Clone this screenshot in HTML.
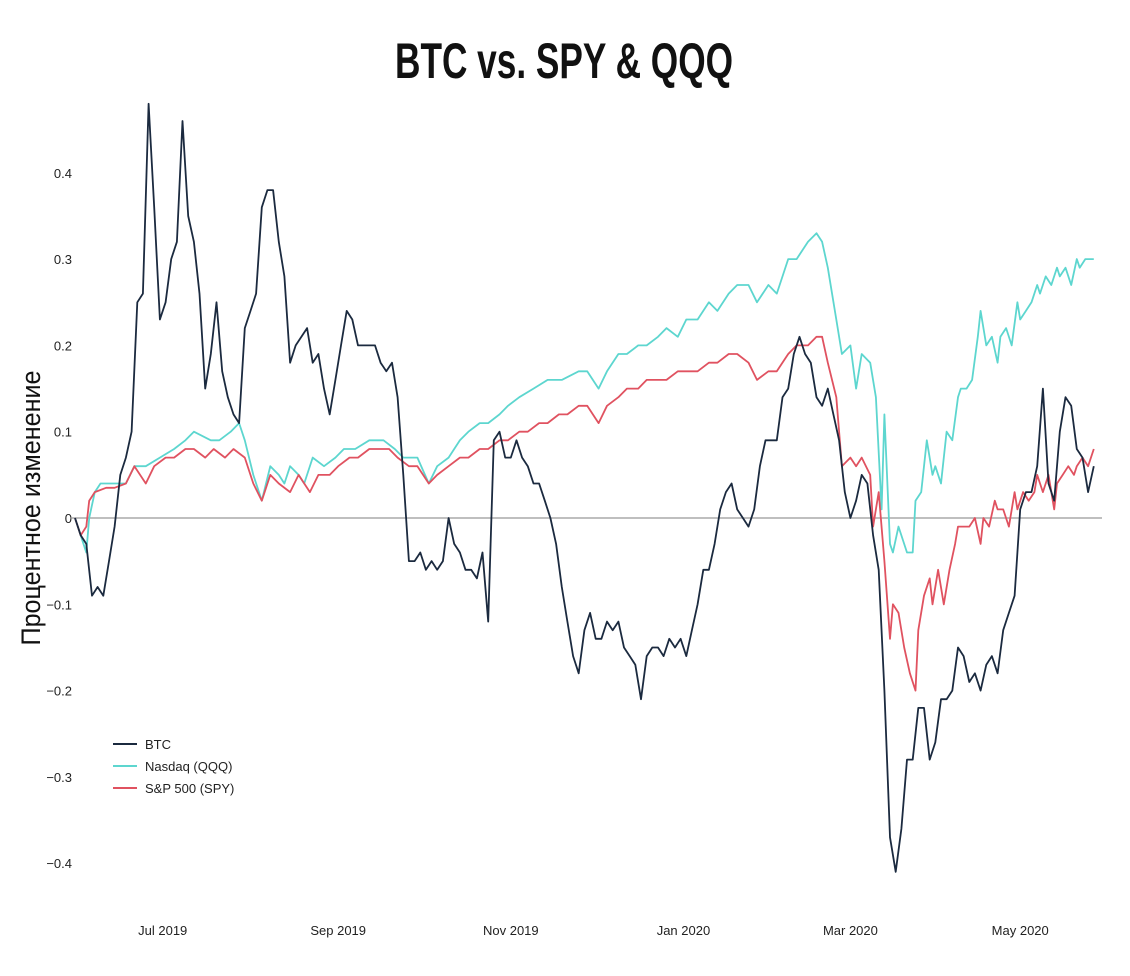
<!DOCTYPE html>
<html><head><meta charset="utf-8"><style>
body{margin:0;background:#fff;}
svg{display:block;}
</style></head><body>
<svg id="chart" width="1130" height="976" xmlns="http://www.w3.org/2000/svg">
<text x="564" y="78" text-anchor="middle" textLength="338" lengthAdjust="spacingAndGlyphs" font-family="'Liberation Sans Narrow','Liberation Sans',sans-serif" font-weight="bold" font-size="50" fill="#111">BTC vs. SPY &amp; QQQ</text>
<text transform="translate(40,508) rotate(-90)" text-anchor="middle" textLength="275" lengthAdjust="spacingAndGlyphs" font-family="'Liberation Sans Narrow','Liberation Sans','Noto Sans CJK SC',sans-serif" font-size="27" fill="#111">Процентное изменение</text>
<g id="yticks"></g><g id="xticks"></g>
<line x1="70" y1="518" x2="1102" y2="518" stroke="#999" stroke-width="1.3"/>
<g id="series"></g>
<g id="legend"></g>
</svg>
<script>
const yTickVals=[0.4,0.3,0.2,0.1,0,-0.1,-0.2,-0.3,-0.4];
const yTickLabels=["0.4","0.3","0.2","0.1","0","\u22120.1","\u22120.2","\u22120.3","\u22120.4"];
const xTickDays=[31,93,154,215,274,334];
const xTickLabels=["Jul 2019","Sep 2019","Nov 2019","Jan 2020","Mar 2020","May 2020"];
const btcStep=2;
const btcVals=[0.00,-0.02,-0.03,-0.09,-0.08,-0.09,-0.05,-0.01,0.05,0.07,0.10,0.25,0.26,0.48,0.36,0.23,0.25,0.30,0.32,0.46,0.35,0.32,0.26,0.15,0.19,0.25,0.17,0.14,0.12,0.11,0.22,0.24,0.26,0.36,0.38,0.38,0.32,0.28,0.18,0.20,0.21,0.22,0.18,0.19,0.15,0.12,0.16,0.20,0.24,0.23,0.20,0.20,0.20,0.20,0.18,0.17,0.18,0.14,0.05,-0.05,-0.05,-0.04,-0.06,-0.05,-0.06,-0.05,0.00,-0.03,-0.04,-0.06,-0.06,-0.07,-0.04,-0.12,0.09,0.10,0.07,0.07,0.09,0.07,0.06,0.04,0.04,0.02,0.00,-0.03,-0.08,-0.12,-0.16,-0.18,-0.13,-0.11,-0.14,-0.14,-0.12,-0.13,-0.12,-0.15,-0.16,-0.17,-0.21,-0.16,-0.15,-0.15,-0.16,-0.14,-0.15,-0.14,-0.16,-0.13,-0.10,-0.06,-0.06,-0.03,0.01,0.03,0.04,0.01,0.00,-0.01,0.01,0.06,0.09,0.09,0.09,0.14,0.15,0.19,0.21,0.19,0.18,0.14,0.13,0.15,0.12,0.09,0.03,0.00,0.02,0.05,0.04,-0.02,-0.06,-0.20,-0.37,-0.41,-0.36,-0.28,-0.28,-0.22,-0.22,-0.28,-0.26,-0.21,-0.21,-0.20,-0.15,-0.16,-0.19,-0.18,-0.20,-0.17,-0.16,-0.18,-0.13,-0.11,-0.09,0.01,0.03,0.03,0.06,0.15,0.04,0.02,0.10,0.14,0.13,0.08,0.07,0.03,0.06];
const qqqDays=[0,4,5,7,9,11,14,18,21,25,30,35,39,42,48,51,55,58,60,63,66,69,72,74,76,79,81,84,88,92,95,99,104,109,113,116,121,125,128,132,136,139,143,146,150,153,157,162,167,172,178,181,185,188,192,195,199,202,206,209,213,216,220,224,227,231,234,238,241,245,248,252,255,259,262,264,266,269,271,274,276,278,281,283,285,286,288,289,291,294,296,297,299,301,303,304,306,308,310,312,313,315,317,319,320,322,324,326,327,329,331,333,334,336,338,340,341,343,345,347,348,350,352,354,355,357,360];
const qqqVals=[0,-0.04,0,0.03,0.04,0.04,0.04,0.04,0.06,0.06,0.07,0.08,0.09,0.10,0.09,0.09,0.10,0.11,0.09,0.05,0.02,0.06,0.05,0.04,0.06,0.05,0.04,0.07,0.06,0.07,0.08,0.08,0.09,0.09,0.08,0.07,0.07,0.04,0.06,0.07,0.09,0.10,0.11,0.11,0.12,0.13,0.14,0.15,0.16,0.16,0.17,0.17,0.15,0.17,0.19,0.19,0.20,0.20,0.21,0.22,0.21,0.23,0.23,0.25,0.24,0.26,0.27,0.27,0.25,0.27,0.26,0.30,0.30,0.32,0.33,0.32,0.29,0.23,0.19,0.20,0.15,0.19,0.18,0.14,0.01,0.12,-0.03,-0.04,-0.01,-0.04,-0.04,0.02,0.03,0.09,0.05,0.06,0.04,0.10,0.09,0.14,0.15,0.15,0.16,0.21,0.24,0.20,0.21,0.18,0.21,0.22,0.20,0.25,0.23,0.24,0.25,0.27,0.26,0.28,0.27,0.29,0.28,0.29,0.27,0.30,0.29,0.30,0.30];
const spyDays=[0,2,4,5,7,11,14,18,21,25,28,32,35,39,42,46,49,53,56,60,63,66,69,72,76,79,83,86,90,93,97,100,104,107,111,114,118,121,125,128,132,136,139,143,146,150,153,157,160,164,167,171,174,178,181,185,188,192,195,199,202,206,209,213,216,220,224,227,231,234,238,241,245,248,252,255,259,262,264,266,269,271,274,276,278,281,282,284,286,288,289,291,293,295,297,298,300,302,303,305,307,309,311,312,314,316,318,320,321,323,325,326,328,330,332,333,335,337,339,340,342,344,346,347,349,351,353,354,356,358,360];
const spyVals=[0,-0.02,-0.01,0.02,0.03,0.035,0.035,0.04,0.06,0.04,0.06,0.07,0.07,0.08,0.08,0.07,0.08,0.07,0.08,0.07,0.04,0.02,0.05,0.04,0.03,0.05,0.03,0.05,0.05,0.06,0.07,0.07,0.08,0.08,0.08,0.07,0.06,0.06,0.04,0.05,0.06,0.07,0.07,0.08,0.08,0.09,0.09,0.10,0.10,0.11,0.11,0.12,0.12,0.13,0.13,0.11,0.13,0.14,0.15,0.15,0.16,0.16,0.16,0.17,0.17,0.17,0.18,0.18,0.19,0.19,0.18,0.16,0.17,0.17,0.19,0.20,0.20,0.21,0.21,0.18,0.14,0.06,0.07,0.06,0.07,0.05,-0.01,0.03,-0.05,-0.14,-0.10,-0.11,-0.15,-0.18,-0.20,-0.13,-0.09,-0.07,-0.10,-0.06,-0.10,-0.06,-0.03,-0.01,-0.01,-0.01,0.00,-0.03,0.00,-0.01,0.02,0.01,0.01,-0.01,0.03,0.01,0.03,0.02,0.03,0.05,0.03,0.05,0.01,0.04,0.05,0.06,0.05,0.06,0.07,0.06,0.08];
const legendLabels=["BTC","Nasdaq (QQQ)","S&P 500 (SPY)"];
const colors=["#1b2a3f","#5dd6cf","#e05260"];

const NS="http://www.w3.org/2000/svg";
const xS=d=>75+d*2.83;
const yS=v=>518-v*863;
function mk(tag,attrs,parent){const e=document.createElementNS(NS,tag);for(const k in attrs)e.setAttribute(k,attrs[k]);parent.appendChild(e);return e;}
const yt=document.getElementById('yticks');
yTickVals.forEach((v,i)=>{
  const t=mk('text',{x:72,y:yS(v)+5,'text-anchor':'end','font-family':'Liberation Sans, sans-serif','font-size':13,fill:'#222'},yt);
  t.textContent=yTickLabels[i];
  
  
});
const xt=document.getElementById('xticks');
xTickDays.forEach((d,i)=>{
  const t=mk('text',{x:xS(d),y:935,'text-anchor':'middle','font-family':'Liberation Sans, sans-serif','font-size':13,fill:'#222'},xt);
  t.textContent=xTickLabels[i];
  
  
});
const sg=document.getElementById('series');
function line(days,vals,color,name){
  const d=vals.map((v,i)=>(i?'L':'M')+xS(days[i]).toFixed(1)+','+yS(v).toFixed(1)).join('');
  const p=mk('path',{d:d,fill:'none',stroke:color,'stroke-width':1.8,'stroke-linejoin':'round'},sg);
  
  
}
line(qqqDays,qqqVals,colors[1],'qqq-line');
line(spyDays,spyVals,colors[2],'spy-line');
line(btcVals.map((v,i)=>i*btcStep),btcVals,colors[0],'btc-line');
const lg=document.getElementById('legend');
legendLabels.forEach((lab,i)=>{
  const g=mk('g',{},lg);
  
  
  const y=744+i*22;
  mk('line',{x1:113,x2:137,y1:y,y2:y,stroke:colors[i],'stroke-width':2},g);
  const t=mk('text',{x:145,y:y+5,'font-family':'Liberation Sans, sans-serif','font-size':13,fill:'#222'},g);
  t.textContent=lab;
});
</script>
</body></html>
